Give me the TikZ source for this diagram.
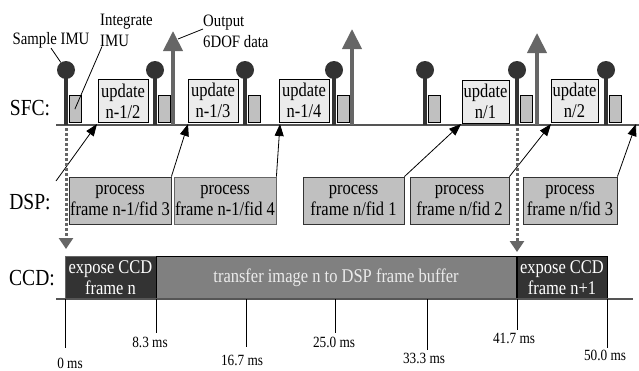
\documentclass[tikz,border=0pt]{standalone}
\usepackage{fontspec}
\setmainfont[FakeStretch=0.85]{Liberation Serif}
\usetikzlibrary{arrows.meta}
\definecolor{pindark}{HTML}{333333}
\definecolor{arrgray}{HTML}{666666}
\definecolor{midgray}{HTML}{C0C0C0}
\definecolor{lightfill}{HTML}{EBEBEB}
\definecolor{xfergray}{HTML}{808080}
\definecolor{linegray}{HTML}{555555}
\newcommand\bxfont{\fontsize{19.4}{21}\selectfont}
\newcommand\smfont{\fontsize{17.4}{21}\selectfont}
\newcommand\tkfont{\fontsize{15.6}{18}\selectfont}
\newcommand\rowfont{\fontsize{23}{24}\selectfont}
\begin{document}
\begin{tikzpicture}[x=1pt,y=-1pt,
  upd/.style={draw=black,line width=0.8pt,fill=lightfill,inner sep=0pt,align=center,font=\bxfont,minimum height=43pt},
  dspbox/.style={draw=pindark,line width=0.8pt,fill=midgray,inner sep=0pt,align=center,font=\bxfont,minimum height=47pt},
  ccdbox/.style={draw=black,line width=0.8pt,inner sep=0pt,align=center,font=\bxfont,minimum height=43pt,text=white},
  imurect/.style={draw=black,line width=0.8pt,fill=midgray,minimum width=12pt,minimum height=27pt,inner sep=0pt,anchor=south west},
  pinhead/.style={circle,fill=pindark,minimum size=18pt,inner sep=0pt},
  pinstem/.style={draw=pindark,line width=4pt},
  outarrow/.style={draw=arrgray,line width=4pt,-{Triangle[width=19pt,length=20pt]}},
  dsparrow/.style={draw=black,line width=0.8pt,-{Triangle[width=9pt,length=12pt]}},
  dotarrow/.style={draw=arrgray,line width=3pt,dash pattern=on 3pt off 2pt,-{Triangle[width=14pt,length=11pt]}},
  rowlab/.style={font=\rowfont,inner sep=0pt},
  ann/.style={font=\smfont,align=left,inner sep=0pt},
  ticklab/.style={font=\tkfont,inner sep=0pt},
  tickline/.style={draw=black,line width=0.8pt},
  leader/.style={draw=black,line width=0.8pt},
  baseline sfc/.style={draw=linegray,line width=2.5pt},
  baseline ccd/.style={draw=linegray,line width=1.5pt}
]
\useasboundingbox (0,0) rectangle (639,370);

% row labels
\node[rowlab] (sfclab) at (30,108) {SFC:};
\node[rowlab] (dsplab) at (30,202) {DSP:};
\node[rowlab] (ccdlab) at (32,278) {CCD:};

% SFC time line
\coordinate (sfcL) at (56,125);
\coordinate (sfcR) at (639,125);
\draw[baseline sfc] (sfcL) -- (sfcR);

% IMU sample pins and integrate rectangles
\foreach \i/\x in {1/66,2/155,3/245,4/334,5/425,6/517,7/606}{
  \coordinate (p\i) at (\x,125);
  \node[pinhead] (h\i) at (\x,70) {};
  \draw[pinstem] (p\i) -- (h\i.center);
  \node[imurect] (r\i) at (\x+2.5,123) {};
}

% update boxes
\node[upd,minimum width=50pt] (u1) at (123,101) {update\\n-1/2};
\node[upd,minimum width=50pt] (u2) at (213,100.5) {update\\n-1/3};
\node[upd,minimum width=50pt] (u3) at (304,100.5) {update\\n-1/4};
\node[upd,minimum width=47pt] (u4) at (485.5,101.5) {update\\n/1};
\node[upd,minimum width=47pt] (u5) at (574.5,100.5) {update\\n/2};

% output 6DOF arrows
\foreach \i/\x/\yt in {1/173/31,2/352/29,3/537/33}{
  \coordinate (ob\i) at (\x,125);
  \coordinate (ot\i) at (\x,\yt);
  \draw[outarrow] (ob\i) -- (ot\i);
}

% annotations
\node[ann] (samp) at (51,40) {Sample IMU};
\node[ann,anchor=west] (integ) at (100,30) {Integrate\\IMU};
\node[ann,anchor=west] (outp) at (203,31) {Output\\6DOF data};
\coordinate (oh1) at (178,39);
\draw[leader] (samp.south) -- (h1);
\draw[leader] ([xshift=2pt]integ.south west) -- (r1.center);
\draw[leader] ([yshift=2pt]outp.west) -- (oh1);

% DSP boxes
\node[dspbox,minimum width=102pt] (d1) at (120,200.5) {process\\frame n-1/fid 3};
\node[dspbox,minimum width=102pt,draw=arrgray] (d2) at (225,200.5) {process\\frame n-1/fid 4};
\node[dspbox,minimum width=101pt] (d3) at (353.5,200.5) {process\\frame n/fid 1};
\node[dspbox,minimum width=99pt] (d4) at (459.5,200.5) {process\\frame n/fid 2};
\node[dspbox,minimum width=94pt] (d5) at (570,200.5) {process\\frame n/fid 3};

% DSP -> SFC arrows
\coordinate (a0) at (56,181);
\coordinate (t1) at (97,124);
\coordinate (t2) at (188,124);
\coordinate (t3) at (280,124);
\coordinate (t4) at (461,124);
\coordinate (t5) at (551,124);
\coordinate (t6) at (636,124);
\draw[dsparrow] (a0) -- (t1);
\draw[dsparrow] (d1.north east) -- (t2);
\draw[dsparrow] (d2.north east) -- (t3);
\draw[dsparrow] (d3.north east) -- (t4);
\draw[dsparrow] (d4.north east) -- (t5);
\draw[dsparrow] (d5.north east) -- (t6);

% CCD boxes
\node[ccdbox,fill=pindark,minimum width=91pt,draw=arrgray] (c1) at (110.5,277.5) {expose CCD\\frame n};
\node[ccdbox,fill=xfergray,minimum width=360pt,text=lightfill] (c2) at (336,277.5) {transfer image n to DSP frame buffer};
\node[ccdbox,fill=pindark,minimum width=90pt] (c3) at (562,277.5) {expose CCD\\frame n+1};
\coordinate (ccdL) at (56,299);
\coordinate (ccdR) at (633,299);
\draw[baseline ccd] (ccdL) -- (ccdR);

% dotted trigger arrows
\coordinate (e1) at (66,249);
\coordinate (e2) at (517,252);
\draw[dotarrow] ([yshift=-3pt]p1) -- (e1);
\draw[dotarrow] ([yshift=-3pt]p6) -- (e2);

% ticks
\foreach \i/\x/\ye/\lx/\ly/\t in {0/65/348/70/363/0 ms,1/156/333/150/342/8.3 ms,2/246/347/242/360/16.7 ms,3/335/333/334/342/25.0 ms,4/427/350/424/358/33.3 ms,5/517/330/514/338/41.7 ms,6/607/348/605/355/50.0 ms}{
  \coordinate (k\i) at (\x,299);
  \coordinate (ke\i) at (\x,\ye);
  \draw[tickline] (k\i) -- (ke\i);
  \node[ticklab] (tl\i) at (\lx,\ly) {\t};
}
\end{tikzpicture}
\end{document}
